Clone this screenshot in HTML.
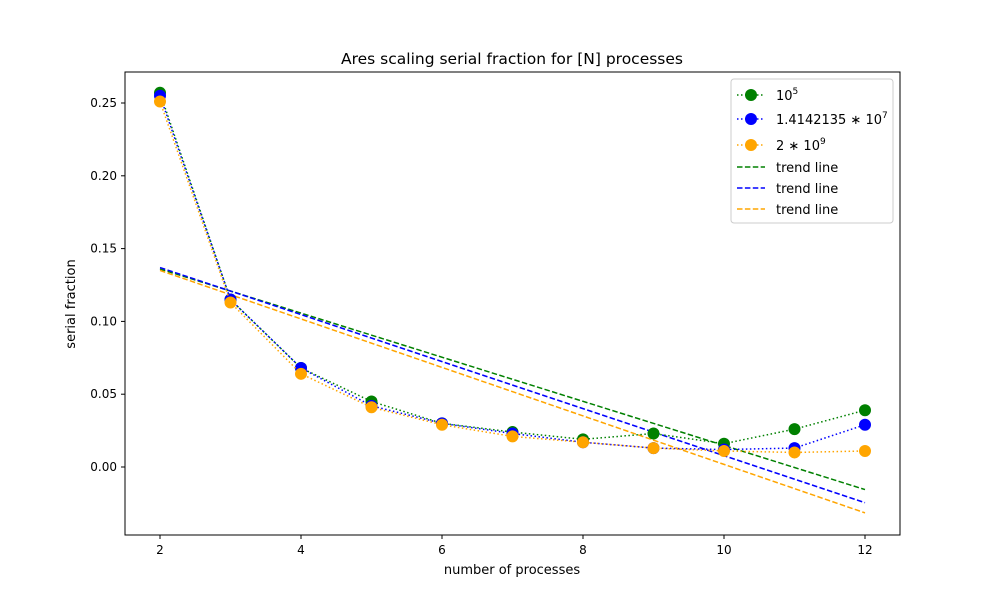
<!DOCTYPE html>
<html><head><meta charset="utf-8"><style>
body{margin:0;background:#fff;font-family:"Liberation Sans","DejaVu Sans",sans-serif}
svg text{font-family:"DejaVu Sans","Liberation Sans",sans-serif}
</style></head><body>
<svg id="chart" width="1000" height="600" xmlns="http://www.w3.org/2000/svg">
<rect width="1000" height="600" fill="#fff"/>
<text x="512" y="64" text-anchor="middle" font-size="15.5">Ares scaling serial fraction for [N] processes</text>
<g id="plot"></g>
<rect x="125" y="72" width="775" height="463" fill="none" stroke="#000" stroke-width="1"/>
<text x="512" y="574" text-anchor="middle" font-size="13">number of processes</text>
<text transform="translate(75,304) rotate(-90)" text-anchor="middle" font-size="13">serial fraction</text>
<g>
<rect x="731" y="79" width="162" height="144" rx="3" fill="#fff" fill-opacity="0.8" stroke="#ccc"/>
<g id="leg"></g>
</g>
</svg>
<script>
const categories=[2,3,4,5,6,7,8,9,10,11,12];
const green=[0.257,0.115,0.068,0.045,0.030,0.024,0.019,0.023,0.016,0.026,0.039];
const blue=[0.255,0.115,0.068,0.042,0.030,0.023,0.017,0.013,0.012,0.013,0.029];
const orange=[0.251,0.113,0.064,0.041,0.029,0.021,0.017,0.013,0.011,0.010,0.011];
const trendGreen=[0.136,-0.0155];
const trendBlue=[0.137,-0.0245];
const trendOrange=[0.135,-0.0315];
const xTicks=[2,4,6,8,10,12];
const yTicks=[0.00,0.05,0.10,0.15,0.20,0.25];
const NS="http://www.w3.org/2000/svg";
const X=v=>160+(v-2)*70.5;
const Y=v=>467-v*1456;
const plot=document.getElementById('plot');
function mk(t,a,p){const e=document.createElementNS(NS,t);for(const k in a)e.setAttribute(k,a[k]);(p||plot).appendChild(e);return e;}
xTicks.forEach(t=>{
 const l=mk('line',{x1:X(t),x2:X(t),y1:535,y2:539,stroke:'#000'});
 
 
 const s=mk('text',{x:X(t),y:554,'text-anchor':'middle','font-size':12});s.textContent=t;
 
 
});
yTicks.forEach(t=>{
 const l=mk('line',{x1:121,x2:125,y1:Y(t),y2:Y(t),stroke:'#000'});
 
 
 const s=mk('text',{x:117,y:Y(t)+4,'text-anchor':'end','font-size':12});s.textContent=t.toFixed(2);
 
 
});
const series=[[green,'green','green'],[blue,'blue','blue'],[orange,'orange','orange']];
const trends=[[trendGreen,'green'],[trendBlue,'blue'],[trendOrange,'orange']];
trends.forEach(([tr,c])=>{
 const l=mk('line',{x1:X(2),y1:Y(tr[0]),x2:X(12),y2:Y(tr[1]),stroke:c,'stroke-width':1.5,'stroke-dasharray':'5.5,2.4'});
 
 
});
series.forEach(([d,c,n])=>{
 const p=mk('polyline',{points:d.map((v,i)=>X(categories[i])+','+Y(v)).join(' '),fill:'none',stroke:c,'stroke-width':1.5,'stroke-dasharray':'1.5,2.5'});
 
 
 d.forEach((v,i)=>{
  const m=mk('circle',{cx:X(categories[i]),cy:Y(v),r:6,fill:c});
  
  
 });
});
const leg=document.getElementById('leg');
const rowY=[95,119,145,167,188,209];
const labels=[['green','10','5',true,''],['blue','1.4142135','7',true,'10'],['orange','2','9',true,'10'],['green','trend line','',false,''],['blue','trend line','',false,''],['orange','trend line','',false,'']];
labels.forEach(([c,t,sup,dot,base],i)=>{
 const y=rowY[i];
 mk('line',{x1:737,x2:765,y1:y,y2:y,stroke:c,'stroke-width':1.5,'stroke-dasharray':dot?'1.5,2.5':'5.5,2.4'},leg);
 if(dot)mk('circle',{cx:751,cy:y,r:6,fill:c},leg);
 const s=mk('text',{x:776,y:y+5,'font-size':13},leg);
 s.textContent=base?t+' \u2217 '+base:t;
 if(sup){const ts=mk('tspan',{dy:-6,'font-size':9},s);ts.textContent=sup;}
 
 
});
</script>
</body></html>
